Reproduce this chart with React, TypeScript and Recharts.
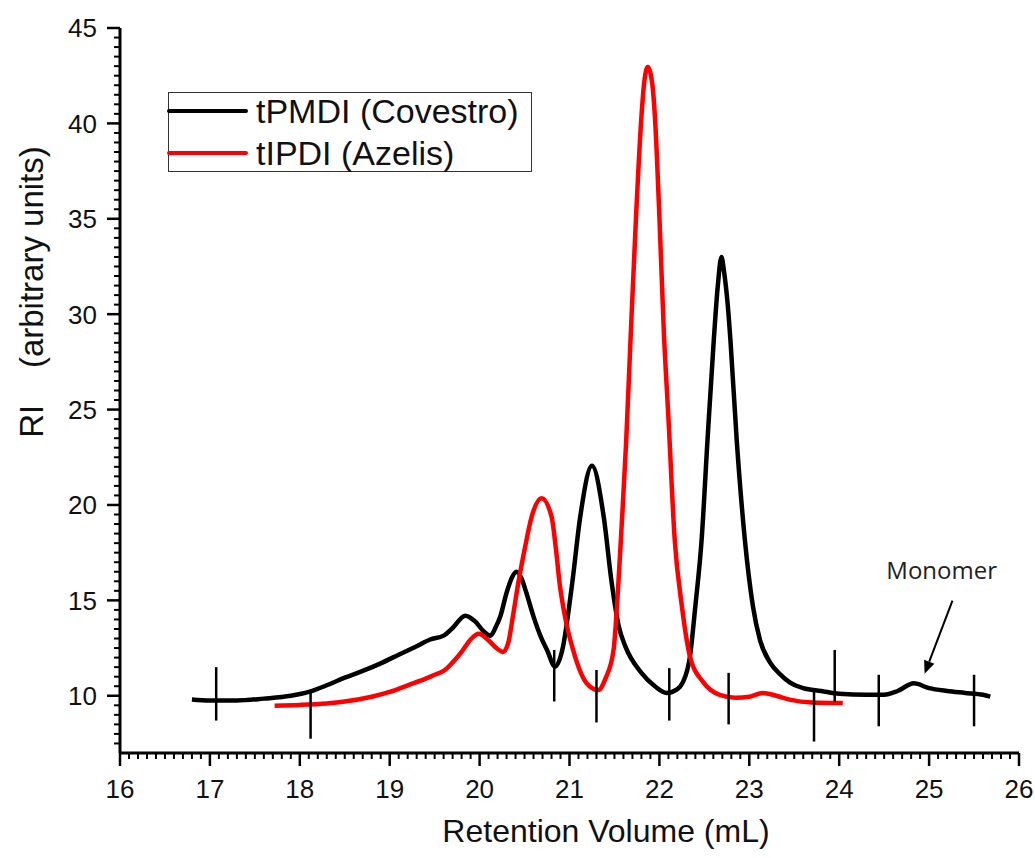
import { LineChart, Line, XAxis, YAxis, ReferenceLine, ReferenceDot } from "recharts";

// retention volume (mL) / RI readings
const tpmdiX = [
  16.8, 17.0, 17.3, 17.6, 17.9, 18.1, 18.3, 18.5, 18.7, 18.9, 19.1, 19.3, 19.45, 19.6, 19.7, 19.84,
  19.95, 20.05, 20.12, 20.18, 20.23, 20.3, 20.36, 20.41, 20.47, 20.52, 20.6, 20.68, 20.75, 20.84,
  20.92, 21.03, 21.12, 21.25, 21.38, 21.47, 21.55, 21.62, 21.8, 21.95, 22.08, 22.2, 22.26, 22.34,
  22.4, 22.47, 22.535, 22.605, 22.65, 22.69, 22.72, 22.76, 22.79, 22.86, 22.95, 23.04, 23.12, 23.23,
  23.35, 23.45, 23.6, 23.8, 24.0, 24.3, 24.5, 24.65, 24.83, 25.0, 25.2, 25.4, 25.6, 25.68,
];
const tpmdiY = [
  9.8, 9.75, 9.75, 9.85, 10.0, 10.2, 10.55, 10.95, 11.3, 11.7, 12.15, 12.6, 12.95, 13.15, 13.55, 14.2,
  13.9, 13.35, 13.15, 13.6, 14.15, 15.4, 16.2, 16.5, 16.1, 15.4, 14.15, 13.1, 12.4, 11.53,
  12.4, 15.9, 19.4, 22.05, 19.4, 15.9, 13.6, 12.6, 11.2, 10.5, 10.15, 10.35, 10.7, 12.06,
  14.7, 18.2, 23.4, 28.65, 31.5, 33.0, 32.2, 30.5, 28.65, 23.4, 18.2, 14.7, 12.9, 11.75,
  11.1, 10.7, 10.4, 10.25, 10.1, 10.05, 10.05, 10.25, 10.65, 10.4, 10.25, 10.15, 10.05, 9.95,
];

const tipdiX = [
  17.72, 18.0, 18.3, 18.5, 18.8, 19.0, 19.2, 19.4, 19.5, 19.6, 19.7, 19.8, 19.9, 19.99, 20.1, 20.2,
  20.26, 20.32, 20.37, 20.43, 20.5, 20.58, 20.69, 20.8, 20.85, 20.89, 20.95, 21.04, 21.19, 21.32,
  21.4, 21.49, 21.54, 21.58, 21.63, 21.68, 21.74, 21.8, 21.83, 21.87, 21.92, 21.95, 22.0, 22.05,
  22.1, 22.17, 22.25, 22.34, 22.49, 22.67, 22.85, 23.0, 23.15, 23.3, 23.45, 23.7, 24.04,
];
const tipdiY = [
  9.48, 9.52, 9.6, 9.7, 9.95, 10.2, 10.55, 10.9, 11.1, 11.3, 11.75, 12.3, 12.95, 13.25, 12.9, 12.45,
  12.3, 12.8, 14.15, 15.9, 17.65, 19.4, 20.35, 19.4, 17.65, 15.9, 14.15, 12.4, 10.66, 10.3,
  10.9, 12.4, 15.6, 18.9, 23.3, 28.8, 35.1, 40.35, 42.1, 42.95, 42.1, 40.35, 35.1, 29.0,
  24.6, 18.2, 14.7, 12.06, 10.7, 10.05, 9.9, 9.95, 10.15, 10.0, 9.8, 9.65, 9.62,
];

// short vertical marks drawn across the traces
const markerX = [17.07, 18.12, 20.83, 21.3, 22.11, 22.77, 23.72, 23.95, 24.44, 25.5];
const markerLow = [8.7, 7.75, 9.7, 8.6, 8.7, 8.5, 7.6, 9.7, 8.4, 8.4];
const markerHigh = [11.5, 10.3, 12.4, 11.35, 11.45, 11.2, 10.3, 12.4, 11.1, 11.1];

// "Monomer" annotation
const arrowX = [25.26, 24.95];
const arrowY = [14.99, 11.15];
const monomerLabel = { x: 25.14, y: 16.55, text: "Monomer" };

const seriesNames = ["tPMDI (Covestro)", "tIPDI (Azelis)"];
const seriesColors = ["#000000", "#ff0000"];

const xTicks = Array.from({ length: 101 }, (_, i) => (160 + i) / 10);
const yTicks = Array.from({ length: 76 }, (_, i) => 7.5 + i * 0.5);

const tpmdiData = tpmdiX.map((x, i) => ({ x, y: tpmdiY[i] }));
const tipdiData = tipdiX.map((x, i) => ({ x, y: tipdiY[i] }));

const FONT = "'Liberation Sans', Arial, sans-serif";
const TEXT = "#111";

function XTick({ x, y, payload }: any) {
  const v = payload.value;
  const major = Math.abs(v - Math.round(v)) < 1e-6;
  return (
    <g>
      <line x1={x} x2={x} y1={y} y2={y + (major ? 13 : 6)} stroke="#000" strokeWidth={major ? 2.5 : 2} />
      {major && (
        <text x={x} y={y + 45} textAnchor="middle" fontSize={26} fontFamily={FONT} fill={TEXT}>
          {Math.round(v)}
        </text>
      )}
    </g>
  );
}

function YTick({ x, y, payload }: any) {
  const v = payload.value;
  const major = v >= 10 && Math.abs(v % 5) < 1e-6;
  return (
    <g>
      <line x1={x} x2={x - (major ? 13 : 6)} y1={y} y2={y} stroke="#000" strokeWidth={major ? 2.5 : 2} />
      {major && (
        <text x={x - 23} y={y} dy="0.36em" textAnchor="end" fontSize={26} fontFamily={FONT} fill={TEXT}>
          {v}
        </text>
      )}
    </g>
  );
}

function Arrow(props: any) {
  const { x1, y1, x2, y2 } = props;
  const ang = Math.atan2(y2 - y1, x2 - x1);
  const len = 13;
  const half = 5.5;
  const bx = x2 - len * Math.cos(ang);
  const by = y2 - len * Math.sin(ang);
  const px = -Math.sin(ang) * half;
  const py = Math.cos(ang) * half;
  return (
    <g>
      <line x1={x1} y1={y1} x2={bx} y2={by} stroke="#000" strokeWidth={2} />
      <polygon points={`${x2},${y2} ${bx + px},${by + py} ${bx - px},${by - py}`} fill="#000" />
    </g>
  );
}

export default function App() {
  return (
    <div style={{ position: "absolute", left: 0, top: 0, width: 1035, height: 858, background: "#fff" }}>
      <LineChart width={1035} height={858} margin={{ top: 28, right: 16, bottom: 0, left: 0 }}>
        <XAxis
          dataKey="x"
          type="number"
          domain={[16, 26]}
          ticks={xTicks}
          interval={0}
          tickSize={0}
          tickMargin={0}
          tickLine={false}
          tick={<XTick />}
          height={105}
          axisLine={{ stroke: "#000", strokeWidth: 3 }}
          label={{
            content: ({ viewBox }: any) => (
              <text
                x={viewBox.x + 486}
                y={viewBox.y + 89}
                textAnchor="middle"
                fontSize={32}
                fontFamily={FONT}
                fill={TEXT}
              >
                Retention Volume (mL)
              </text>
            ),
          }}
        />
        <YAxis
          type="number"
          domain={[7, 45]}
          ticks={yTicks}
          interval={0}
          tickSize={0}
          tickMargin={0}
          tickLine={false}
          tick={<YTick />}
          width={120}
          axisLine={{ stroke: "#000", strokeWidth: 3 }}
          label={{
            content: ({ viewBox }: any) => {
              const cx = viewBox.x + 43;
              const cy = viewBox.y + 264;
              return (
                <text
                  x={cx}
                  y={cy}
                  transform={`rotate(-90, ${cx}, ${cy})`}
                  textAnchor="middle"
                  fontSize={33}
                  fontFamily={FONT}
                  fill={TEXT}
                >
                  {"RI\u00a0\u00a0\u00a0\u00a0(arbitrary units)"}
                </text>
              );
            },
          }}
        />
        <Line
          data={tpmdiData}
          dataKey="y"
          type="monotone"
          stroke={seriesColors[0]}
          strokeWidth={4.5}
          dot={false}
          isAnimationActive={false}
        />
        <Line
          data={tipdiData}
          dataKey="y"
          type="monotone"
          stroke={seriesColors[1]}
          strokeWidth={4.5}
          dot={false}
          isAnimationActive={false}
        />
        {markerX.map((mx, i) => (
          <ReferenceLine
            key={`m-${i}`}
            segment={[
              { x: mx, y: markerLow[i] },
              { x: mx, y: markerHigh[i] },
            ]}
            stroke="#000"
            strokeWidth={2.5}
          />
        ))}
        <ReferenceLine
          segment={[
            { x: arrowX[0], y: arrowY[0] },
            { x: arrowX[1], y: arrowY[1] },
          ]}
          shape={<Arrow />}
        />
        <ReferenceDot
          x={monomerLabel.x}
          y={monomerLabel.y}
          r={0}
          stroke="none"
          fill="none"
          label={{
            value: monomerLabel.text,
            position: "center",
            fontSize: 24,
            fontFamily: "'Open Sans', sans-serif",
            fill: "#222",
          }}
        />
      </LineChart>
      <div
        style={{
          position: "absolute",
          left: 168,
          top: 92,
          width: 364,
          height: 80,
          border: "1.5px solid #333",
          boxSizing: "border-box",
          background: "#fff",
        }}
      >
        {seriesNames.map((name, i) => (
          <div
            key={name}
            style={{
              position: "absolute",
              left: -2,
              top: (i === 0 ? 18 : 60) - 20,
              height: 40,
              display: "flex",
              alignItems: "center",
              whiteSpace: "nowrap",
            }}
          >
            <div style={{ width: 81, height: 4.5, background: seriesColors[i], borderRadius: 2 }} />
            <span
              style={{
                marginLeft: 8,
                fontFamily: FONT,
                fontSize: 34,
                color: TEXT,
                lineHeight: "40px",
              }}
            >
              {name}
            </span>
          </div>
        ))}
      </div>
    </div>
  );
}
